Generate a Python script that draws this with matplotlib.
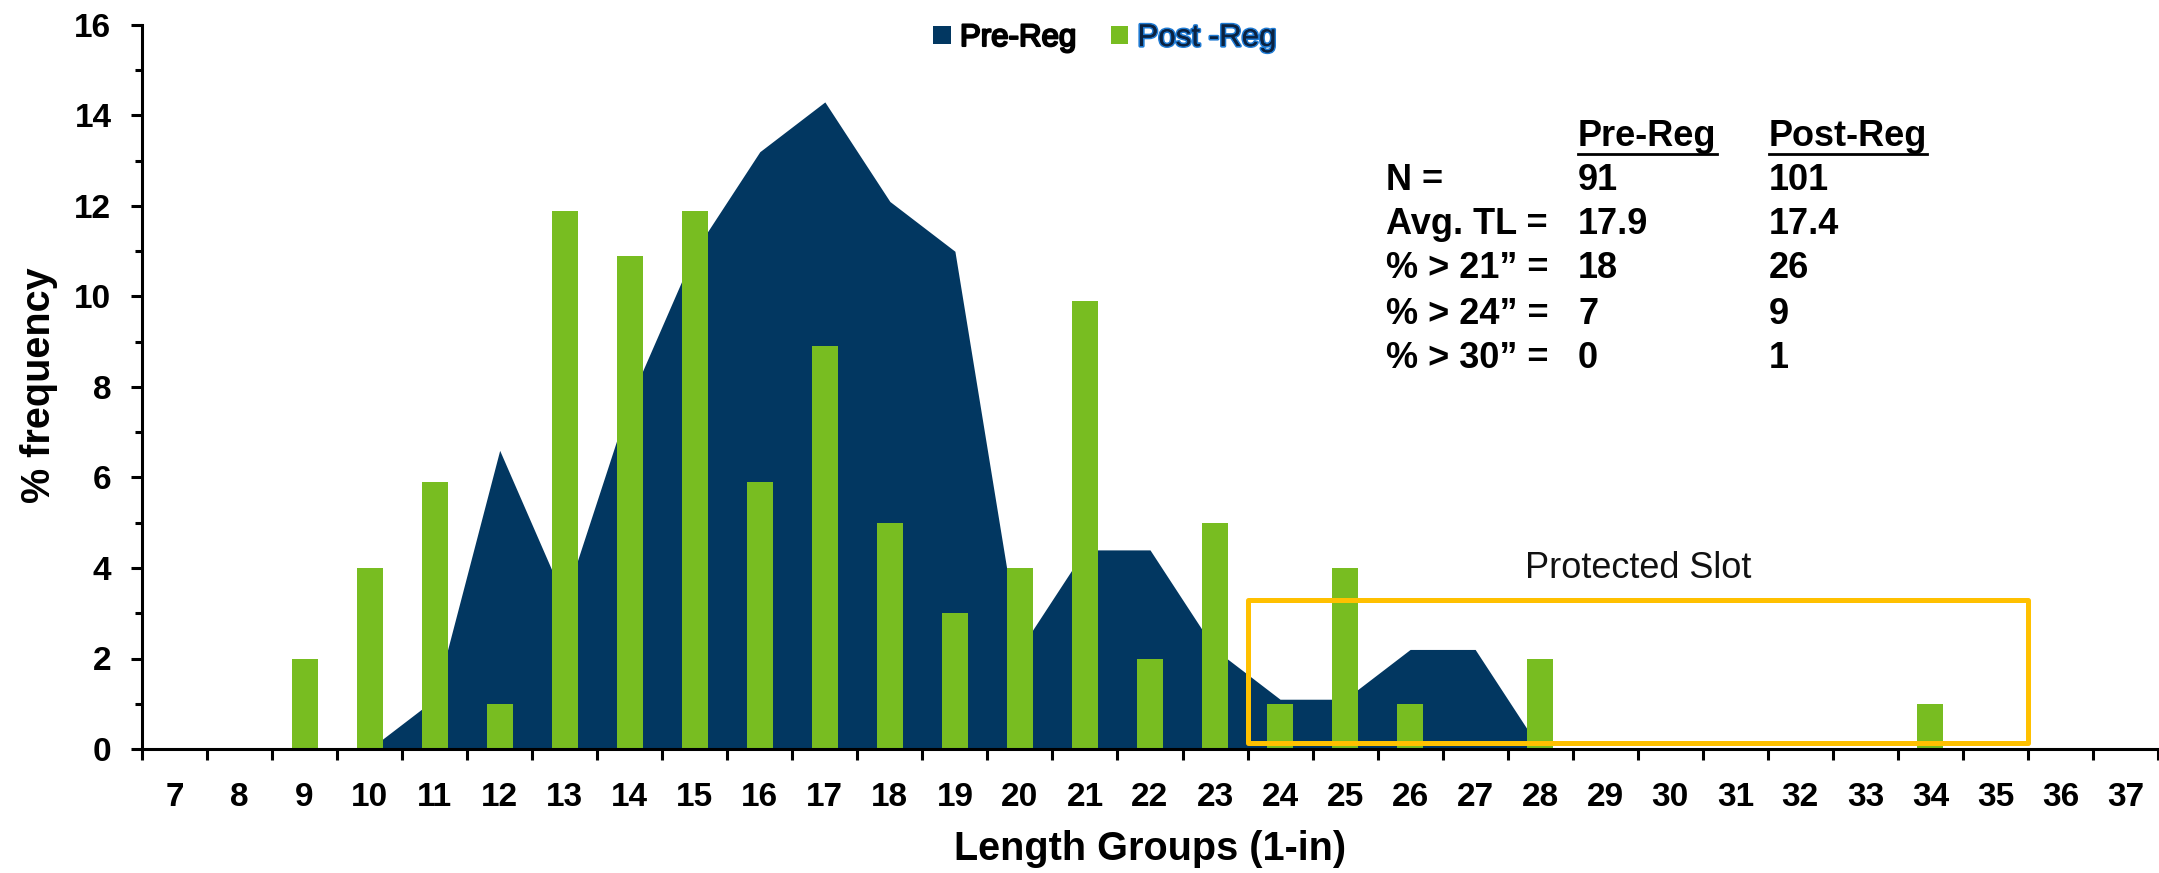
import matplotlib
matplotlib.use('Agg')
import matplotlib.pyplot as plt
from matplotlib.patches import Rectangle, Patch
from matplotlib.lines import Line2D
import matplotlib.patheffects as pe

plt.rcParams['font.family'] = ['Liberation Sans', 'DejaVu Sans']

# ---- data ----
length_groups = list(range(7, 38))
pre_reg = [0, 0, 0, 0, 1.1, 6.6, 3.3, 7.7, 11.0, 13.2, 14.3, 12.1, 11.0, 2.2, 4.4,
           4.4, 2.2, 1.1, 1.1, 2.2, 2.2, 0, 0, 0, 0, 0, 0, 0, 0, 0, 0]
post_reg = [0, 0, 2.0, 4.0, 5.9, 1.0, 11.9, 10.9, 11.9, 5.9, 8.9, 5.0, 3.0, 4.0, 9.9,
            2.0, 5.0, 1.0, 4.0, 1.0, 0, 2.0, 0, 0, 0, 0, 0, 1.0, 0, 0, 0]
series_names = ['Pre-Reg', 'Post -Reg']

stat_labels = ['N =', 'Avg. TL =', '% > 21\u201d =', '% > 24\u201d =', '% > 30\u201d =']
stat_headers = ['Pre-Reg', 'Post-Reg']
pre_stats = ['91', '17.9', '18', '7', '0']
post_stats = ['101', '17.4', '26', '9', '1']

slot_label = 'Protected Slot'
slot_range = (24, 35)
slot_top = 3.3

NAVY = '#023761'
GREEN = '#78BD21'
YELLOW = '#FFC000'

W, H = 2159, 873
fig = plt.figure(figsize=(W / 100, H / 100), dpi=100)
ax = fig.add_axes([142 / W, 1 - 749 / H, (2158 - 142) / W, (749 - 25) / H])

ax.fill_between(length_groups, pre_reg, 0, color=NAVY, linewidth=0, zorder=1)
ax.bar(length_groups, post_reg, width=0.4, color=GREEN, linewidth=0, zorder=2)

ax.set_xlim(6.5, 37.5)
ax.set_ylim(0, 16)

# protected slot box
rect = Rectangle((slot_range[0] - 0.5, 0.13), slot_range[1] - slot_range[0] + 1, slot_top - 0.13,
                 fill=False, edgecolor=YELLOW, linewidth=3.6, joinstyle='round', zorder=3)
ax.add_patch(rect)
ax.text((slot_range[0] + slot_range[1]) / 2, 4.0, slot_label, ha='center', va='center',
        fontsize=26, color='#111111')

# spines / ticks
for s in ['top', 'right']:
    ax.spines[s].set_visible(False)
for s in ['left', 'bottom']:
    ax.spines[s].set_linewidth(2.2)
    ax.spines[s].set_color('black')

ax.set_yticks(range(0, 17, 2))
ax.set_yticks(range(1, 16, 2), minor=True)
ax.tick_params(axis='y', which='major', length=8, width=2.2, direction='out', pad=14,
               labelsize=24)
ax.tick_params(axis='y', which='minor', length=5, width=2.2, direction='out')
ax.set_xticks(length_groups)
ax.set_xticks([g - 0.5 for g in length_groups] + [37.5], minor=True)
ax.tick_params(axis='x', which='major', length=0, pad=24, labelsize=24)
ax.tick_params(axis='x', which='minor', length=8, width=2.2, direction='out')
for lab in ax.get_xticklabels() + ax.get_yticklabels():
    lab.set_fontweight('bold')

ax.set_ylabel('% frequency', fontsize=28.5, fontweight='bold', va='center', ha='center')
ax.set_xlabel('Length Groups (1-in)', fontsize=28.5, fontweight='bold', va='center', ha='center')
ax.yaxis.set_label_coords(39 / W, 1 - 385 / H, transform=fig.transFigure)
ax.xaxis.set_label_coords(1150 / W, 1 - 849 / H, transform=fig.transFigure)

# legend
handles = [Patch(facecolor=NAVY, edgecolor='none'), Patch(facecolor=GREEN, edgecolor='none')]
leg = fig.legend(handles, series_names, loc='center', bbox_to_anchor=(1105 / W, 1 - 38 / H),
                 ncol=2, frameon=False, fontsize=22.5, handlelength=0.55, handleheight=0.55,
                 handletextpad=0.3, columnspacing=1.1)
t0, t1 = leg.get_texts()
t0.set_color('black')
t0.set_path_effects([pe.withStroke(linewidth=1.5, foreground='black')])
t1.set_color('#0b2240')
t1.set_path_effects([pe.withStroke(linewidth=2.4, foreground='#1f7ad2'), pe.Normal()])

# stats table
row_y = [181, 225, 269, 314, 359]
col_x = [1386, 1578, 1769]
hdr_y = 137
tfs = 26
hdr_texts = []
for cx, h in zip(col_x[1:], stat_headers):
    hdr_texts.append(fig.text(cx / W, 1 - hdr_y / H, h, ha='left', va='center',
                              fontsize=tfs, fontweight='bold'))
for y, lab, a, b in zip(row_y, stat_labels, pre_stats, post_stats):
    fig.text(col_x[0] / W, 1 - y / H, lab, ha='left', va='center', fontsize=tfs, fontweight='bold')
    fig.text(col_x[1] / W, 1 - y / H, a, ha='left', va='center', fontsize=tfs, fontweight='bold')
    fig.text(col_x[2] / W, 1 - y / H, b, ha='left', va='center', fontsize=tfs, fontweight='bold')

fig.canvas.draw()
r = fig.canvas.get_renderer()
for t in hdr_texts:
    bb = t.get_window_extent(r)
    yline = (H - 154) / H
    fig.add_artist(Line2D([bb.x0 / W, bb.x1 / W], [yline, yline], color='black', linewidth=2.0))

fig.savefig('out.png', dpi=100)
